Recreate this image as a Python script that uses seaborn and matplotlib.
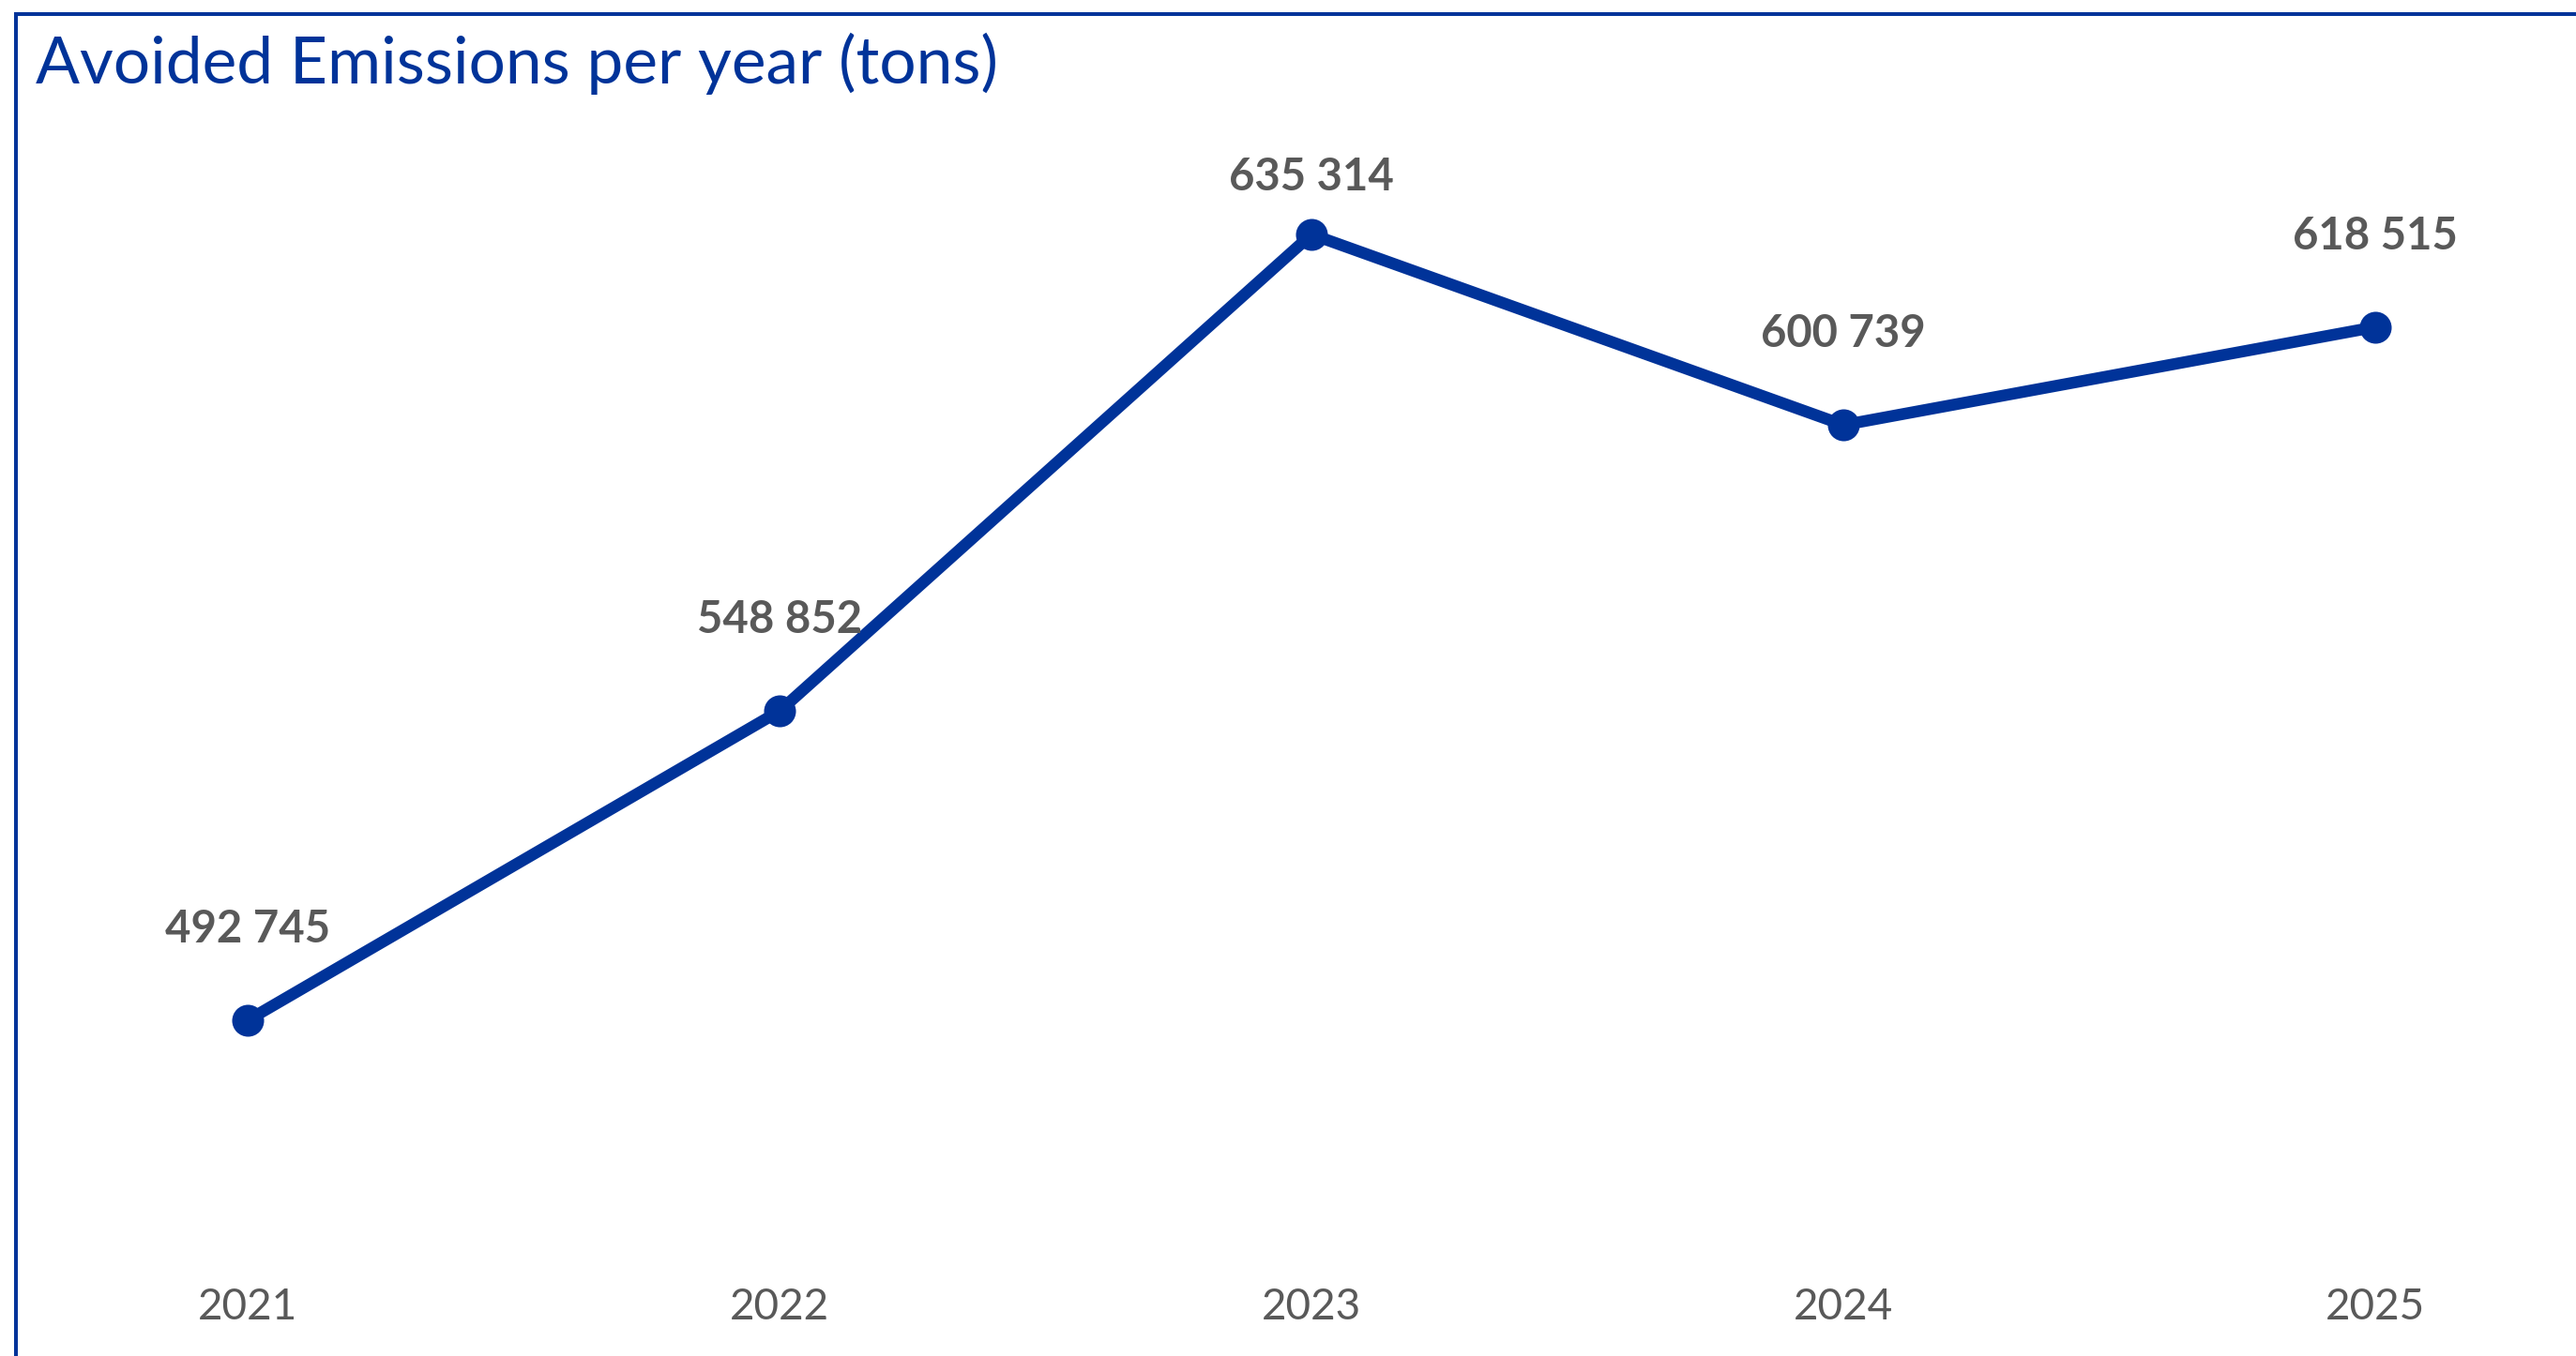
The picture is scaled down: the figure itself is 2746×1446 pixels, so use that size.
import matplotlib.pyplot as plt
import matplotlib.patches as mpatches
import seaborn as sns

# data
years = ["2021", "2022", "2023", "2024", "2025"]
avoided_tons = [492745, 548852, 635314, 600739, 618515]

BLUE = "#003399"
GREY = "#595959"

W, H = 2746, 1446
DPI = 100

sns.set_style("white")
plt.rcParams["font.family"] = ["Lato", "DejaVu Sans"]

fig = plt.figure(figsize=(W / DPI, H / DPI), dpi=DPI)

# plot area in pixel terms
top_px, bottom_px = 100, 1345
ax = fig.add_axes([0, 1 - bottom_px / H, 1, (bottom_px - top_px) / H])

sns.lineplot(
    x=years,
    y=avoided_tons,
    ax=ax,
    color=BLUE,
    linewidth=9,
    marker="o",
    markersize=24.5,
    markeredgewidth=0,
    solid_capstyle="round",
)

ax.set_xlim(-0.4656, 4.377)
ax.set_ylim(449028, 660825)
ax.set_yticks([])
ax.set_xlabel("")
ax.set_ylabel("")
for side in ax.spines.values():
    side.set_visible(False)
ax.tick_params(axis="x", length=0, pad=20.5, labelsize=33, labelcolor=GREY)

# data labels: Excel pushes the top one down to stay inside the plot area
peak = max(avoided_tons)
for i, v in enumerate(avoided_tons):
    dy = 47 if v == peak else 83
    ax.annotate(
        f"{v:,}".replace(",", " "),
        xy=(i, v),
        xytext=(0, dy * 72 / DPI),
        textcoords="offset points",
        ha="center",
        va="baseline",
        fontsize=34,
        fontweight="bold",
        color=GREY,
    )

fig.text(
    38 / W,
    1 - 89 / H,
    "Avoided Emissions per year (tons)",
    ha="left",
    va="baseline",
    fontsize=50,
    color=BLUE,
)

# chart border, runs off the right and bottom edges
border = mpatches.Rectangle(
    (17 / W, -0.05),
    1.2,
    1.05 - 15 / H,
    transform=fig.transFigure,
    fill=False,
    edgecolor=BLUE,
    linewidth=2.9,
)
fig.patches.append(border)

fig.savefig("out.png", dpi=DPI)
